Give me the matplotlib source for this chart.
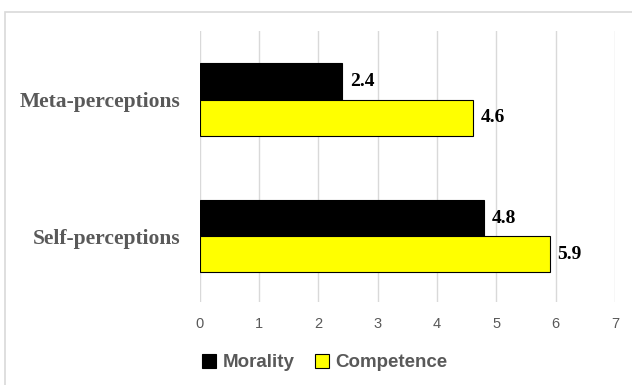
import matplotlib.pyplot as plt
from matplotlib.patches import Rectangle

# data
categories = ['Self-perceptions', 'Meta-perceptions']
morality = [4.8, 2.4]
competence = [5.9, 4.6]
xticks = [0, 1, 2, 3, 4, 5, 6, 7]

fig = plt.figure(figsize=(6.32, 3.85), dpi=100)
ax = fig.add_axes([0.316, 0.216, 0.657, 0.703])

# outer chart frame
fig.patches.append(Rectangle((0.008, -0.1), 1.2, 1.069, transform=fig.transFigure,
                             fill=False, edgecolor='#d9d9d9', linewidth=1.2))

h = 0.265
ypos = [0, 1]
ax.barh([y + h / 2 for y in ypos], morality, height=h, color='black',
        edgecolor='black', linewidth=0.8, label='Morality', zorder=3)
ax.barh([y - h / 2 for y in ypos], competence, height=h, color='#ffff00',
        edgecolor='black', linewidth=0.8, label='Competence', zorder=3)

for y, m, c in zip(ypos, morality, competence):
    ax.text(m + 0.13, y + h / 2, str(m), va='center', ha='left',
            family='Liberation Serif', fontweight='bold', fontsize=14)
    ax.text(c + 0.13, y - h / 2, str(c), va='center', ha='left',
            family='Liberation Serif', fontweight='bold', fontsize=14)

ax.set_xlim(0, 7)
ax.set_ylim(-0.48, 1.5)
ax.set_xticks(xticks)
ax.set_xticklabels([str(t) for t in xticks], color='#595959', fontsize=10.5,
                   family='Liberation Sans')
ax.set_yticks(ypos)
ax.set_yticklabels(categories, family='Liberation Serif', fontweight='bold',
                   fontsize=15.5, color='#595959')
ax.tick_params(axis='both', length=0)
ax.tick_params(axis='x', pad=11)
ax.tick_params(axis='y', pad=14)
ax.grid(axis='x', color='#d9d9d9', linewidth=1, zorder=0)
for s in ax.spines.values():
    s.set_visible(False)

leg = fig.legend(loc='center', bbox_to_anchor=(0.514, 0.058), ncol=2, frameon=False,
                 prop={'family': 'Liberation Sans', 'weight': 'bold', 'size': 13.5},
                 handlelength=0.75, handleheight=0.75, handletextpad=0.35,
                 columnspacing=1.1)
for t in leg.get_texts():
    t.set_color('#595959')

fig.savefig('out.png', dpi=100)
